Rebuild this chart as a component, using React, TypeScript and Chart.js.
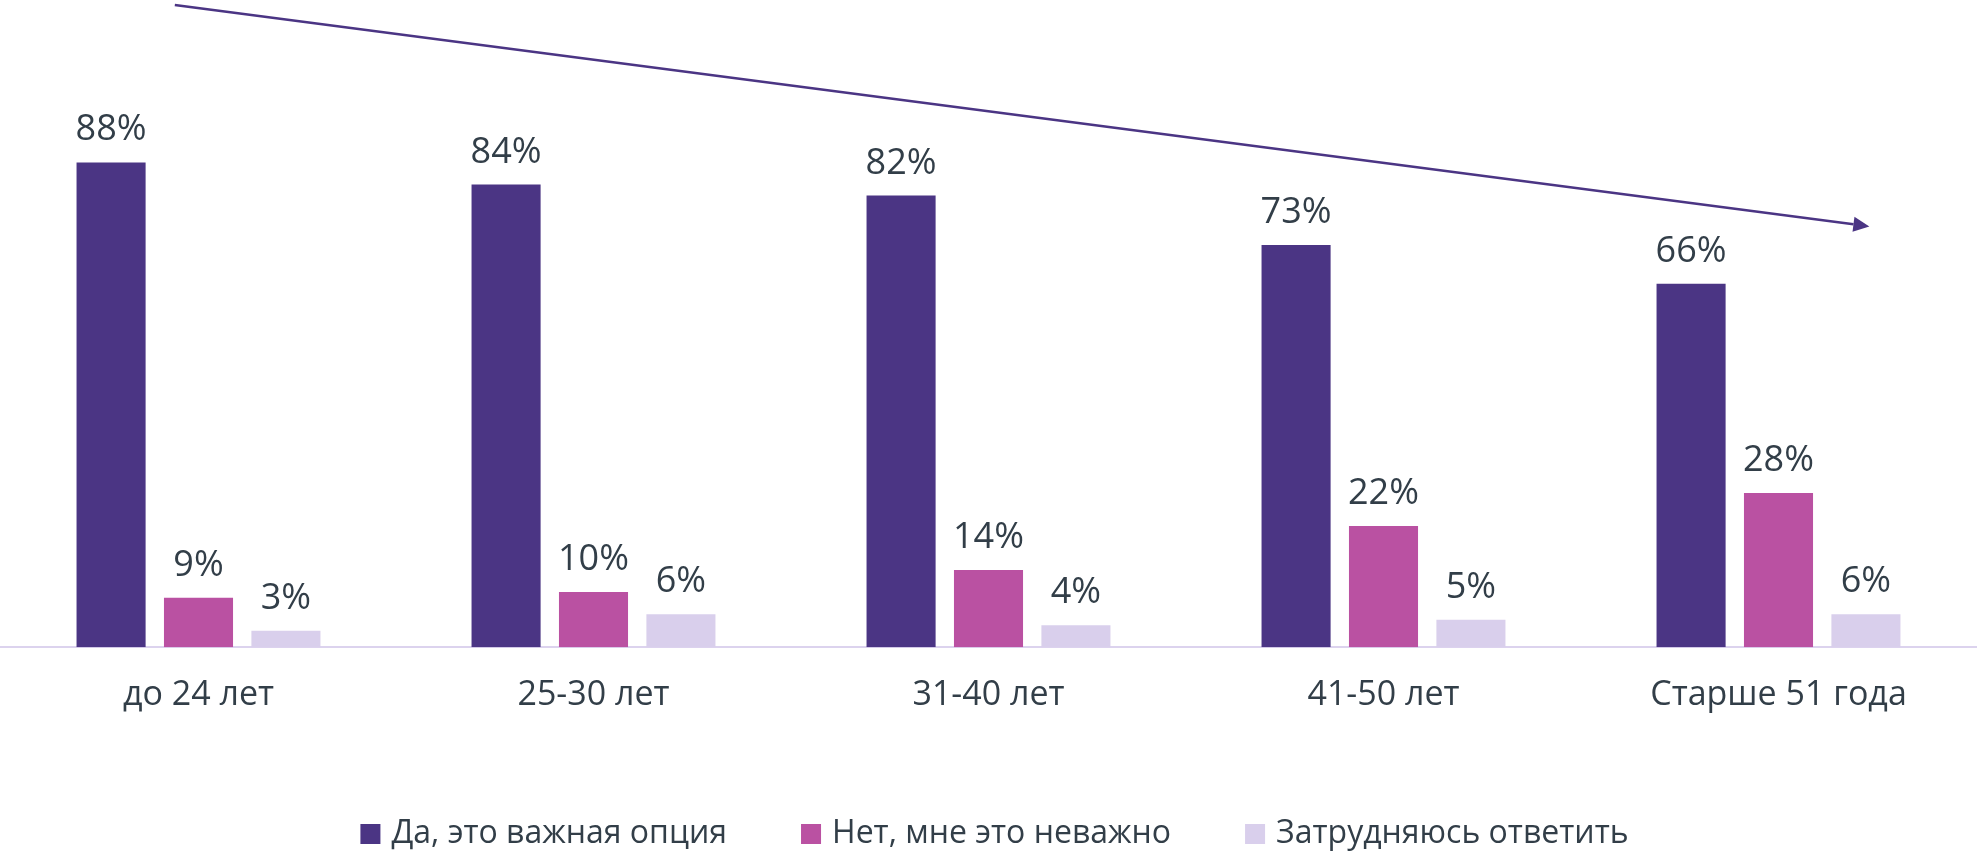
import React, { useEffect, useRef } from "react";
import { Chart, registerables } from "chart.js";

Chart.register(...registerables);

const categories = ["до 24 лет", "25-30 лет", "31-40 лет", "41-50 лет", "Старше 51 года"];
const seriesNames = ["Да, это важная опция", "Нет, мне это неважно", "Затрудняюсь ответить"];
const yesValues = [88, 84, 82, 73, 66];
const noValues = [9, 10, 14, 22, 28];
const unsureValues = [3, 6, 4, 5, 6];
const seriesColors = ["#4B3584", "#BA51A2", "#D9CFEC"];

const TEXT_COLOR = "#323E48";
const FONT = "'Open Sans', 'DejaVu Sans', sans-serif";

const labelsPlugin = {
  id: "valueLabels",
  afterDatasetsDraw(chart: any) {
    const ctx = chart.ctx;
    ctx.save();
    ctx.font = `36px ${FONT}`;
    ctx.fillStyle = TEXT_COLOR;
    ctx.textAlign = "center";
    ctx.textBaseline = "alphabetic";
    chart.data.datasets.forEach((ds: any, di: number) => {
      const meta = chart.getDatasetMeta(di);
      meta.data.forEach((bar: any, i: number) => {
        ctx.fillText(ds.data[i] + "%", bar.x, bar.y - 22);
      });
    });
    ctx.restore();
  },
};

const arrowPlugin = {
  id: "trendArrow",
  afterDraw(chart: any) {
    const x = chart.scales.x;
    const y = chart.scales.y;
    const x0 = x.getPixelForValue(-0.06);
    const y0 = y.getPixelForValue(116.6);
    const x1 = x.getPixelForValue(4.23);
    const y1 = y.getPixelForValue(76.4);
    const ctx = chart.ctx;
    const ang = Math.atan2(y1 - y0, x1 - x0);
    const headLen = 16;
    const headHalf = 7.5;
    const bx = x1 - headLen * Math.cos(ang);
    const by = y1 - headLen * Math.sin(ang);
    ctx.save();
    ctx.strokeStyle = seriesColors[0];
    ctx.fillStyle = seriesColors[0];
    ctx.lineWidth = 2.5;
    ctx.beginPath();
    ctx.moveTo(x0, y0);
    ctx.lineTo(bx, by);
    ctx.stroke();
    ctx.beginPath();
    ctx.moveTo(x1, y1);
    ctx.lineTo(bx + headHalf * Math.sin(ang), by - headHalf * Math.cos(ang));
    ctx.lineTo(bx - headHalf * Math.sin(ang), by + headHalf * Math.cos(ang));
    ctx.closePath();
    ctx.fill();
    ctx.restore();
  },
};

const legendPlugin = {
  id: "customLegend",
  afterDraw(chart: any) {
    const ctx = chart.ctx;
    const box = 20;
    const gapBoxText = 11;
    const gapItems = 74;
    ctx.save();
    ctx.font = `32px ${FONT}`;
    const widths = seriesNames.map((n) => ctx.measureText(n).width);
    const total =
      widths.reduce((a, b) => a + b, 0) + seriesNames.length * (box + gapBoxText) + gapItems * (seriesNames.length - 1);
    let cx = (chart.width - total) / 2 + 6;
    const cy = 834;
    ctx.textBaseline = "middle";
    ctx.textAlign = "left";
    seriesNames.forEach((n, i) => {
      ctx.fillStyle = seriesColors[i];
      ctx.fillRect(cx, cy - box / 2, box, box);
      cx += box + gapBoxText;
      ctx.fillStyle = TEXT_COLOR;
      ctx.fillText(n, cx, cy);
      cx += widths[i] + gapItems;
    });
    ctx.restore();
  },
};

export default function App() {
  const ref = useRef<HTMLCanvasElement | null>(null);
  useEffect(() => {
    if (!ref.current) return;
    const chart = new Chart(ref.current, {
      type: "bar",
      data: {
        labels: categories,
        datasets: [
          { label: seriesNames[0], data: yesValues, backgroundColor: seriesColors[0] },
          { label: seriesNames[1], data: noValues, backgroundColor: seriesColors[1] },
          { label: seriesNames[2], data: unsureValues, backgroundColor: seriesColors[2] },
        ],
      },
      options: {
        animation: false,
        responsive: false,
        maintainAspectRatio: false,
        categoryPercentage: 0.664,
        barPercentage: 0.79,
        layout: { padding: { left: 1, right: 1, top: 0, bottom: 107 } },
        plugins: {
          legend: { display: false },
          tooltip: { enabled: false },
        },
        scales: {
          x: {
            grid: { display: false, drawTicks: false },
            border: { display: true, color: "#DCD3EE", width: 2 },
            ticks: { color: TEXT_COLOR, font: { family: FONT, size: 34 }, padding: 28, maxRotation: 0 },
          },
          y: {
            display: false,
            min: 0,
            max: 117.5,
          },
        },
      } as any,
      plugins: [labelsPlugin, arrowPlugin, legendPlugin],
    });
    return () => chart.destroy();
  }, []);
  return (
    <div style={{ position: "fixed", left: 0, top: 0, width: 1977, height: 851, background: "#fff" }}>
      <canvas ref={ref} width={1977} height={851} style={{ width: 1977, height: 851 }} />
    </div>
  );
}
